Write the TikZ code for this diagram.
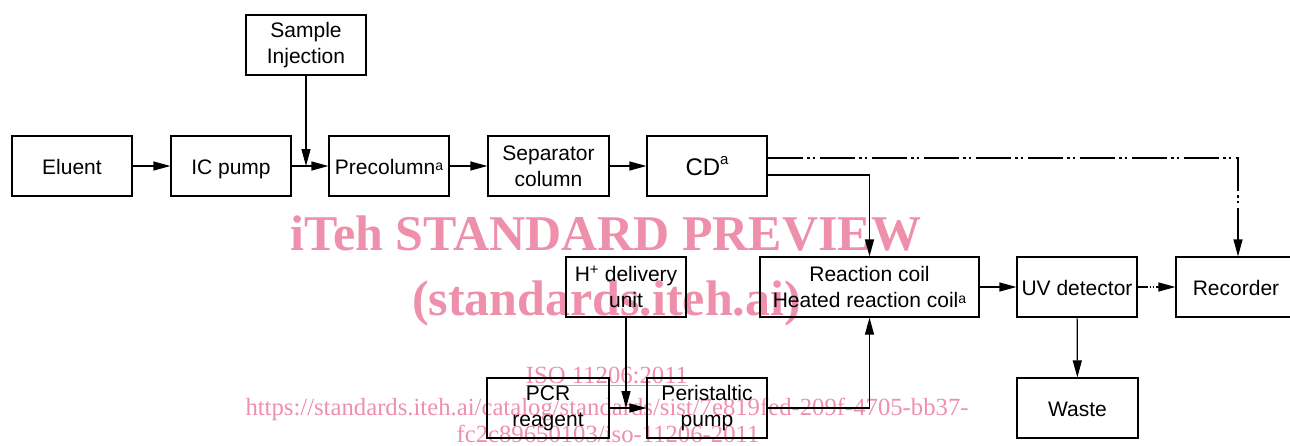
\documentclass[tikz,border=0pt]{standalone}
\usepackage{fontspec}
\setmainfont{Liberation Sans}
\newfontfamily\wmfont{Liberation Serif}
\usetikzlibrary{arrows.meta}
\definecolor{wm}{RGB}{238,143,171}
\newcommand{\supa}{\raisebox{4pt}{\fontsize{14}{14}\selectfont a}}
\tikzset{
  box/.style={draw, line width=1.2pt, minimum width=120pt, minimum height=60pt,
    inner sep=0pt, align=center, font=\fontsize{21}{26}\selectfont},
  oneline/.style={text height=16pt, text depth=0pt},
  arr/.style={-{Triangle[length=17pt,width=9pt]}, line width=1.2pt},
  dashdotline/.style={dash pattern=on 35pt off 4pt on 3pt off 3pt on 2pt off 5pt},
  shortdash/.style={dash pattern=on 10pt off 2pt on 1.5pt off 1.5pt on 1.5pt off 2pt},
  wmtext/.style={text=wm, inner sep=0pt, anchor=base}
}
\begin{document}
\begin{tikzpicture}[x=1pt,y=-1pt]
\useasboundingbox (0,0) rectangle (1290,445);
% watermark (behind)
\node[wmtext, font=\wmfont\bfseries\fontsize{50}{50}\selectfont] (wm1) at (606,250) {iTeh STANDARD PREVIEW};
\node[wmtext, font=\wmfont\bfseries\fontsize{50}{50}\selectfont] (wm2) at (606.5,315) {(standards.iteh.ai)};
\node[wmtext, font=\wmfont\fontsize{24.7}{25}\selectfont] (wm3) at (607,383) {\underline{ISO 11206:2011}};
\node[wmtext, font=\wmfont\fontsize{24.7}{25}\selectfont] (wm4) at (607,415) {https://standards.iteh.ai/catalog/standards/sist/7e819fed-209f-4705-bb37-};
\node[wmtext, font=\wmfont\fontsize{24.7}{25}\selectfont] (wm5) at (608,442) {fc2c89650103/iso-11206-2011};
% boxes
\node[box, oneline] (eluent) at (72,166) {Eluent};
\node[box, oneline] (icpump) at (231,166) {IC pump};
\node[box, oneline] (precol) at (389,166) {Precolumn\supa};
\node[box, minimum width=121pt] (sep) at (548.5,166) {Separator\\column};
\node[box, text height=18pt, text depth=0pt] (cd) at (707,166) {\fontsize{24}{28}\selectfont CD\raisebox{11pt}{\fontsize{15}{15}\selectfont a}};
\node[box] (sample) at (306,45) {Sample\\Injection};
\node[box] (hplus) at (626,287) {H\textsuperscript{+} delivery\\unit};
\node[box, minimum width=219pt] (reaction) at (869.5,287) {Reaction coil\\Heated reaction coil\supa};
\node[box, oneline] (uv) at (1077,287) {UV detector};
\node[box, oneline] (recorder) at (1236,287) {Recorder};
\node[box, minimum width=122pt] (pcr) at (548,408) {PCR\\reagent};
\node[box] (peri) at (707,408) {Peristaltic\\pump};
\node[box, oneline, minimum width=121pt] (waste) at (1077.5,408) {Waste};
% connectors
\draw[arr] (eluent) -- (icpump);
\draw[arr] (icpump) -- (precol);
\draw[arr] (sample) -- (sample.south |- icpump.east);
\draw[arr] (precol) -- (sep);
\draw[arr] (sep) -- (cd);
\draw[arr] ([yshift=-9pt]cd.east) -| (reaction.north);
\draw[arr, dashdotline] ([yshift=8pt]cd.east) -| ([xshift=2pt]recorder.north);
\draw[arr] (reaction) -- (uv);
\draw[arr, shortdash] (uv) -- (recorder);
\draw[arr] (uv) -- (waste);
\draw[arr] (pcr) -- (peri);
\draw[arr] (hplus) -- (hplus.south |- pcr.east);
\draw[arr] (peri) -| (reaction.south);
\end{tikzpicture}
\end{document}
